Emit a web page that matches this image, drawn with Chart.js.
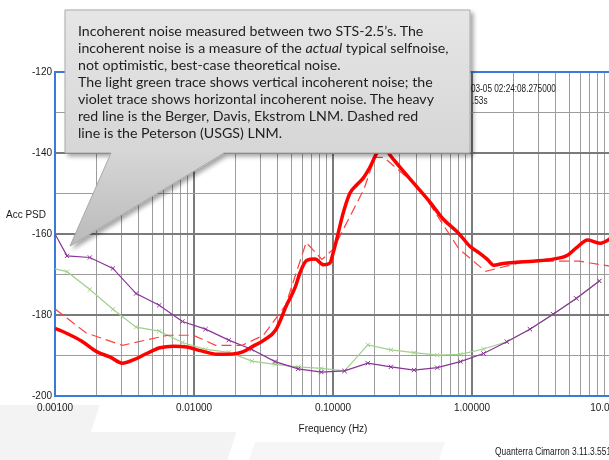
<!DOCTYPE html>
<html>
<head>
<meta charset="utf-8">
<script src="https://cdn.jsdelivr.net/npm/chart.js@4.4.0/dist/chart.umd.min.js"></script>
<style>
  html, body { margin: 0; padding: 0; background: #fff; overflow: hidden; }
  #wrap { position: relative; width: 609px; height: 460px; overflow: hidden; background: #fff; }
  .deco { position: absolute; background: #f3f3f3; transform: skewX(-18deg); }
  #chart { position: absolute; left: 0; top: 0; }
  .lbl { position: absolute; white-space: nowrap; color: #1a1a1a; transform-origin: 0 0;
         font-family: 'Liberation Sans', Arial, sans-serif; font-size: 10px; line-height: 12px; }
  #callout { position: absolute; left: 0; top: 0; }
  #note { position: absolute; left: 78px; top: 22px; white-space: nowrap; color: #1e1e1e;
          font-family: Lato, 'Open Sans', sans-serif; font-size: 14.2px; line-height: 17px; }
</style>
</head>
<body>
<div id="wrap">
  <div class="deco" style="left:-30px; top:405px; width:120px; height:60px;"></div>
  <div class="deco" style="left:30px; top:432px; width:200px; height:40px;"></div>
  <div class="deco" style="left:250px; top:442px; width:190px; height:30px; background:#f6f6f6;"></div>
  <canvas id="chart" width="640" height="460"></canvas>

  <div class="lbl" style="left:6px; top:209px;">Acc PSD</div>
  <div class="lbl" style="left:471px; top:83px; transform: scaleX(0.82);">03-05 02:24:08.275000</div>
  <div class="lbl" style="left:472px; top:95px; transform: scaleX(0.82);">.53s</div>
  <div class="lbl" style="left:495px; top:446px; transform: scaleX(0.84);">Quanterra Cimarron 3.11.3.551</div>

  <svg id="callout" width="609" height="460">
    <defs>
      <linearGradient id="g" x1="0" y1="0" x2="0" y2="1">
        <stop offset="0" stop-color="#e6e6e6"/>
        <stop offset="0.6" stop-color="#d6d6d6"/>
        <stop offset="1" stop-color="#bababa"/>
      </linearGradient>
      <filter id="sh" x="-10%" y="-10%" width="130%" height="130%">
        <feDropShadow dx="3" dy="3" stdDeviation="2" flood-color="#000" flood-opacity="0.35"/>
      </filter>
    </defs>
    <path d="M65,10 H470 V153 H224 L70,246 L111,153 H65 Z" fill="url(#g)" stroke="#a9a9a9" stroke-width="1" filter="url(#sh)"/>
  </svg>
  <div id="note">Incoherent noise measured between two STS-2.5’s. The<br>incoherent noise is a measure of the <i>actual</i> typical selfnoise,<br>not optimistic, best-case theoretical noise.<br>The light green trace shows vertical incoherent noise; the<br>violet trace shows horizontal incoherent noise. The heavy<br>red line is the Berger, Davis, Ekstrom LNM. Dashed red<br>line is the Peterson (USGS) LNM.</div>
</div>

<script>
// incoherent noise, sampled at the marker frequencies (Hz)
const markerFreq = [0.001, 0.00122, 0.00178, 0.00261, 0.00383, 0.00562, 0.00825, 0.0121, 0.0178, 0.0261,
  0.0383, 0.0562, 0.0825, 0.121, 0.178, 0.261, 0.383, 0.562, 0.825, 1.21, 1.78, 2.61, 3.83, 5.62, 8.25];
const horizNoise = [-160.0, -165.4, -165.8, -168.5, -174.7, -177.6, -181.6, -183.5, -186.2, -188.5,
  -191.5, -193.3, -194.1, -193.8, -191.9, -192.8, -193.6, -193.0, -191.5, -189.5, -186.6, -183.5, -179.8, -175.9, -171.6];
const vertNoise = [-168.6, -169.3, -173.7, -178.6, -183.0, -184.0, -186.8, -188.5, -189.2, -191.4,
  -192.2, -192.8, -193.2, -193.8, -187.4, -188.6, -189.3, -189.9, -189.7, -188.4, -186.6, -183.5, -179.8, -175.9, -171.6];

// Berger, Davis, Ekstrom LNM (heavy red)
const bdeFreq = [0.001, 0.00121, 0.00155, 0.00201, 0.0025, 0.00305, 0.00366, 0.00457, 0.00569, 0.0071,
  0.0089, 0.0111, 0.0148, 0.0191, 0.0224, 0.0263, 0.0319, 0.0387, 0.0465, 0.0534, 0.058, 0.0647, 0.0743,
  0.0856, 0.0949, 0.1, 0.106, 0.118, 0.132, 0.148, 0.165, 0.185, 0.206, 0.23, 0.257, 0.302, 0.4, 0.5,
  0.62, 0.8, 0.97, 1.14, 1.3, 1.43, 1.68, 2.09, 2.75, 3.84, 4.9, 5.6, 6.8, 8.3, 10];
const bdeLnm = [-183.3, -184.5, -186.4, -189.1, -190.4, -191.9, -191.1, -189.5, -188.1, -187.7,
  -187.9, -188.8, -189.7, -189.6, -189.1, -187.8, -186.2, -183.7, -177.5, -173.2, -169.5, -166.5, -166.2,
  -167.6, -167.2, -164.8, -161.5, -155.0, -150.0, -147.9, -146.2, -143.4, -140.1, -138.0, -140.5, -143.4, -148.3, -152.2,
  -156.3, -159.8, -163.1, -164.8, -166.4, -167.7, -167.3, -167.0, -166.7, -166.2, -165.2, -163.5, -161.5, -162.3, -161.1];

// Peterson (USGS) NLNM (dashed red)
const nlnmFreq = [0.001, 0.00167, 0.00305, 0.0065, 0.0099, 0.0143, 0.0222, 0.0316, 0.0457, 0.0641,
  0.0833, 0.1, 0.1667, 0.2, 0.2326, 0.4167, 0.806, 1.25, 2.5, 5.88, 10];
const nlnm = [-178.5, -184.4, -187.5, -185.0, -185.0, -187.5, -187.5, -185.0, -177.5, -162.1,
  -166.3, -163.8, -149.0, -141.1, -141.1, -148.6, -163.7, -169.2, -166.7, -166.7, -168.0];

const decades = [0.001, 0.01, 0.1, 1, 10];
const yTicks = [-200, -190, -180, -170, -160, -150, -140, -130, -120];

const pts = (xs, ys) => xs.map((x, i) => ({ x: x, y: ys[i] }));
const isDecade = v => Math.abs(Math.log10(v) - Math.round(Math.log10(v))) < 1e-6;
const noFirst = markerFreq.map((f, i) => i === 0 ? 0 : 3);

const blue = '#3a7bd8';
const font = { family: "'Liberation Sans', Arial, sans-serif", size: 10 };

const frame = {
  id: 'frame',
  beforeDraw(chart) {
    const a = chart.chartArea, c = chart.ctx;
    c.save();
    c.fillStyle = '#fff';
    c.fillRect(a.left, a.top, a.right - a.left, a.bottom - a.top);
    c.restore();
  },
  afterDraw(chart) {
    const a = chart.chartArea, c = chart.ctx;
    c.save();
    c.strokeStyle = blue;
    c.lineWidth = 2;
    c.beginPath();
    c.moveTo(a.left, a.top);
    c.lineTo(a.right, a.top);
    c.stroke();
    c.restore();
  }
};

new Chart(document.getElementById('chart'), {
  type: 'line',
  data: {
    datasets: [
      { label: 'BDE LNM', data: pts(bdeFreq, bdeLnm), borderColor: '#ff0000', borderWidth: 3.5,
        pointRadius: 0, cubicInterpolationMode: 'monotone', order: 0 },
      { label: 'Peterson NLNM', data: pts(nlnmFreq, nlnm), borderColor: '#ff4040', borderWidth: 1.2,
        borderDash: [10, 5], pointRadius: 0, tension: 0, order: 1 },
      { label: 'Horizontal', data: pts(markerFreq, horizNoise), borderColor: '#8a3399', borderWidth: 1.2,
        pointStyle: 'crossRot', pointRadius: noFirst, pointBorderColor: '#8a3399', pointBorderWidth: 1, tension: 0, order: 2 },
      { label: 'Vertical', data: pts(markerFreq, vertNoise), borderColor: '#a3d08c', borderWidth: 1.2,
        pointStyle: 'crossRot', pointRadius: noFirst, pointBorderColor: '#a3d08c', pointBorderWidth: 1, tension: 0, order: 3 }
    ]
  },
  options: {
    responsive: false,
    animation: false,
    devicePixelRatio: 1,
    layout: { padding: { left: 0, right: 29, top: 72, bottom: 25 } },
    plugins: { legend: { display: false }, tooltip: { enabled: false } },
    scales: {
      x: {
        type: 'logarithmic',
        min: 0.001,
        max: 10,
        afterBuildTicks(scale) {
          const t = [];
          decades.forEach(d => {
            for (let m = 1; m <= 9; m++) {
              const v = Number((m * d).toPrecision(3));
              if (v <= 10) t.push({ value: v });
            }
          });
          scale.ticks = t;
        },
        afterFit(scale) { scale.height = 39; },
        ticks: {
          autoSkip: false, maxRotation: 0, padding: 6, color: '#1a1a1a', font: font,
          callback: v => isDecade(v) ? v.toFixed(5) : ''
        },
        grid: {
          drawTicks: false,
          color: c => c.tick && isDecade(c.tick.value) ? '#7a7a7a' : '#9c9c9c',
          lineWidth: c => c.tick && isDecade(c.tick.value) ? 2 : 1
        },
        border: { color: blue, width: 2 },
        title: { display: true, text: 'Frequency (Hz)', color: '#1a1a1a', font: font, padding: { top: 0, bottom: 0 } }
      },
      y: {
        min: -200,
        max: -120,
        afterBuildTicks(scale) { scale.ticks = yTicks.map(v => ({ value: v })); },
        afterFit(scale) { scale.width = 55; },
        ticks: {
          padding: 3, color: '#1a1a1a', font: font,
          callback: v => v % 20 === 0 ? String(v) : ''
        },
        grid: {
          drawTicks: false,
          color: c => c.tick && c.tick.value % 20 === 0 ? '#7a7a7a' : '#9c9c9c',
          lineWidth: c => c.tick && c.tick.value % 20 === 0 ? 2 : 1
        },
        border: { color: blue, width: 2 }
      }
    }
  },
  plugins: [frame]
});
</script>
</body>
</html>
